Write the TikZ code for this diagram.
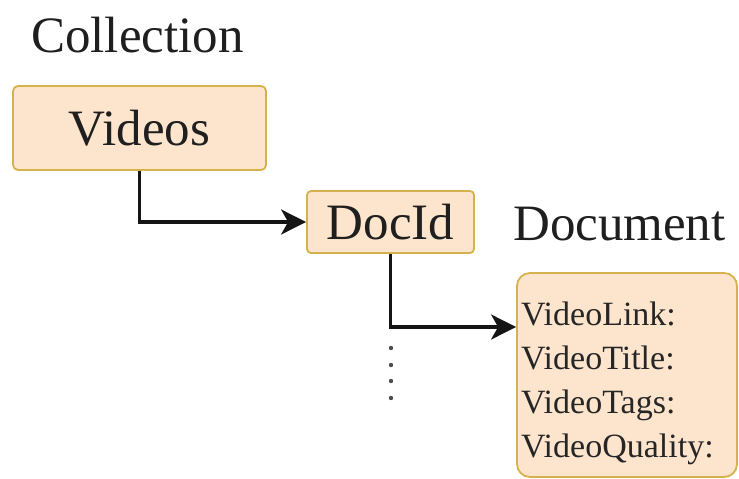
\documentclass[tikz,border=0pt]{standalone}
\usepackage{fontspec}
\setmainfont{Liberation Serif}
\usetikzlibrary{arrows.meta}
\definecolor{boxfill}{HTML}{FDE4CD}
\definecolor{boxline}{HTML}{D6B24E}
\definecolor{inkline}{HTML}{151515}
\begin{document}
\begin{tikzpicture}[x=1pt,y=-1pt,
  bigtext/.style={font=\fontsize{51}{60}\selectfont, text=black!88, inner sep=0pt},
  entity/.style={draw=boxline, line width=1.8pt, fill=boxfill, rounded corners=5pt,
    inner sep=0pt, font=\fontsize{51}{60}\selectfont, text=black!88},
  link/.style={draw=inkline, line width=3.2pt,
    -{Stealth[length=25pt,width=25pt,inset=7pt]}},
  dot/.style={fill=black!70}]
\useasboundingbox (0,0) rectangle (739,479);
\node[bigtext, anchor=base west] (collection) at (31,52) {Collection};
\node[entity, minimum width=253pt, minimum height=84pt] (videos) at (139.5,128) {Videos};
\node[entity, rounded corners=4pt, minimum width=167pt, minimum height=62pt] (docid) at (390.5,222) {DocId};
\node[bigtext, anchor=base west] (document) at (513,240) {Document};
\node[draw=boxline, line width=1.8pt, fill=boxfill, rounded corners=13pt,
  minimum width=220pt, minimum height=204pt, inner sep=0pt] (fields) at (627,375) {};
\node[anchor=north west, inner sep=0pt, align=left, text=black!85,
  font=\fontsize{34}{44}\selectfont] (fieldtext) at (521,301.5)
  {VideoLink:\\VideoTitle:\\VideoTags:\\VideoQuality:};
\coordinate (elbow) at (391,327);
\draw[link] (videos.south) |- (docid.west);
\draw[link] (docid.south) |- (fields.west |- elbow);
\foreach \yy [count=\i] in {348,365,381,398} {
  \fill[dot] (391,\yy) circle (2.2pt);
}
\end{tikzpicture}
\end{document}
